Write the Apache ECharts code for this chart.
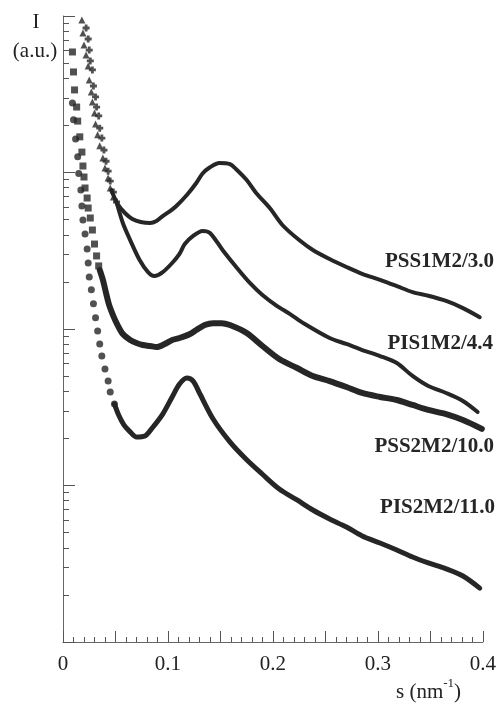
<!DOCTYPE html>
<html><head><meta charset="utf-8">
<script src="https://cdn.jsdelivr.net/npm/echarts@6/dist/echarts.min.js"></script>
<style>html,body{margin:0;padding:0;background:#fff}#c{width:499px;height:706px}</style>
</head><body><div id="c"></div>
<script>
// ---- data (s in nm^-1, I in arbitrary units, log scale) ----
const seriesNames = ['PSS1M2/3.0', 'PIS1M2/4.4', 'PSS2M2/10.0', 'PIS2M2/11.0'];

// PSS1M2/3.0 : discrete triangles (steep part) + dense curve
const sPSS1M2pts = [0.018,0.019,0.020,0.022,0.024,0.025,0.027,0.028,0.030,0.031,0.033,0.035,0.038,0.040,0.043,0.045,0.048];
const iPSS1M2pts = [9430,7790,6530,5630,4790,3900,3270,2820,2400,2040,1740,1480,1240,1070,922,796,697];
const sPSS1M2 = [0.046,0.052,0.059,0.066,0.074,0.083,0.089,0.095,0.102,0.108,0.118,0.127,0.133,0.140,0.149,0.159,0.165,0.175,0.184,0.197,0.209,0.225,0.238,0.254,0.270,0.285,0.302,0.318,0.333,0.348,0.365,0.381,0.397];
const iPSS1M2 = [773,629,551,505,483,476,490,527,567,611,718,857,985,1080,1150,1130,1050,895,740,593,462,370,320,280,249,225,206,188,172,163,151,136,119];

// PIS1M2/4.4
const sPIS1M2pts = [0.022,0.024,0.025,0.026,0.028,0.029,0.031,0.032,0.034,0.035,0.037,0.039,0.041,0.043,0.045,0.048,0.051];
const iPIS1M2pts = [8380,7130,6060,5160,4520,3570,3040,2620,2300,1920,1660,1390,1180,1020,882,750,648];
const sPIS1M2 = [0.051,0.057,0.064,0.073,0.081,0.087,0.095,0.104,0.111,0.116,0.124,0.133,0.140,0.152,0.165,0.178,0.190,0.204,0.216,0.230,0.254,0.270,0.285,0.302,0.318,0.333,0.348,0.365,0.381,0.395];
const iPIS1M2 = [648,476,370,276,231,218,231,264,302,349,393,423,411,320,249,197,165,140,125,108,87.6,80.2,73.4,67.2,60.6,50.1,43.2,39.0,34.7,29.5];

// PSS2M2/10.0
const sPSS2M2pts = [0.009,0.010,0.011,0.013,0.014,0.016,0.018,0.019,0.020,0.021,0.023,0.024,0.026,0.028,0.030,0.032,0.034];
const iPSS2M2pts = [5890,4390,3370,2620,2130,1690,1350,1100,936,796,687,593,512,429,349,293,253];
const sPSS2M2 = [0.035,0.038,0.041,0.044,0.048,0.052,0.057,0.064,0.070,0.076,0.083,0.089,0.097,0.104,0.111,0.121,0.127,0.135,0.143,0.151,0.159,0.175,0.190,0.206,0.223,0.238,0.254,0.270,0.285,0.302,0.318,0.333,0.348,0.365,0.381,0.399];
const iPSS2M2 = [238,206,170,142,121,106,92.9,85.1,81.4,79.0,77.9,76.7,80.2,85.1,87.6,92.9,98.5,106,109,109,106,94.3,77.9,64.3,56.3,50.1,46.5,42.6,39.0,36.8,35.2,32.7,30.4,28.6,26.2,23.0];

// PIS2M2/11.0
const sPIS2M2pts = [0.009,0.010,0.012,0.014,0.015,0.017,0.018,0.019,0.021,0.023,0.024,0.025,0.027,0.029,0.031,0.033,0.035,0.037,0.040,0.043,0.045,0.049];
const iPIS2M2pts = [2780,2170,1640,1260,985,773,611,497,405,325,264,215,178,145,118,97.1,80.2,67.2,55.5,46.5,39.6,33.2];
const sPIS2M2 = [0.049,0.053,0.058,0.064,0.070,0.078,0.085,0.095,0.104,0.111,0.118,0.124,0.130,0.143,0.159,0.175,0.190,0.206,0.223,0.238,0.254,0.270,0.285,0.302,0.318,0.333,0.348,0.365,0.381,0.397];
const iPIS2M2 = [33.2,28.2,24.4,22.0,20.4,20.7,23.3,28.6,36.8,44.5,48.6,46.5,39.0,26.6,19.0,14.6,11.8,9.50,8.08,6.97,6.11,5.43,4.76,4.29,3.87,3.49,3.20,2.93,2.64,2.21];

const xLabelValues = [0, 0.1, 0.2, 0.3, 0.4];
const xTickLabels = ['0', '0.1', '0.2', '0.3', '0.4'];
const yDecades = [1, 10, 100, 1000, 10000];

// ---- build ----
const LOG = v => Math.log10(v);
const pts = (s, I) => s.map((v, i) => [v, LOG(I[i])]);
const majorTicks = yDecades.map(LOG);
const minorTicks = [];
yDecades.slice(0, -1).forEach(d => { for (let k = 2; k <= 9; k++) minorTicks.push(LOG(d * k)); });

const INK = '#262626';
const SERIF = '"Liberation Serif", "DejaVu Serif", serif';
const plusPath = 'path://M3,0h4v3h3v4h-3v3h-4v-3h-3v-4h3z';

function sparse(name, s, I, symbol, size) {
  return { name: name, type: 'scatter', data: pts(s, I), symbol: symbol, symbolSize: size,
    itemStyle: { color: INK }, silent: true, z: 3 };
}
function curve(name, s, I, width) {
  return { name: name, type: 'line', data: pts(s, I), showSymbol: false, symbol: 'none', smooth: 0.3,
    lineStyle: { color: INK, width: width, cap: 'round', join: 'round' }, silent: true, z: 2 };
}

const chart = echarts.init(document.getElementById('c'), null, { renderer: 'canvas' });
chart.setOption({
  animation: false,
  backgroundColor: '#ffffff',
  grid: { left: 63, right: 16, top: 16, bottom: 64, containLabel: false },
  xAxis: {
    type: 'value', min: 0, max: 0.4, interval: 0.05,
    axisLine: { show: true, lineStyle: { color: '#666', width: 1 } },
    axisTick: { show: true, inside: true, length: 11, lineStyle: { color: '#555', width: 1 } },
    minorTick: { show: true, splitNumber: 5, length: 5, lineStyle: { color: '#555', width: 1 } },
    splitLine: { show: false }, minorSplitLine: { show: false },
    axisLabel: {
      show: true, customValues: xLabelValues, margin: 12,
      formatter: v => { const i = xLabelValues.findIndex(x => Math.abs(x - v) < 1e-9); return i >= 0 ? xTickLabels[i] : ''; },
      fontFamily: SERIF, fontSize: 21, color: '#222'
    }
  },
  yAxis: [
    { type: 'value', min: 0, max: 4, interval: 1, position: 'left',
      axisLine: { show: true, lineStyle: { color: '#666', width: 1 } },
      axisTick: { show: true, inside: true, length: 12, customValues: majorTicks, lineStyle: { color: '#555', width: 1 } },
      axisLabel: { show: false }, splitLine: { show: false } },
    { type: 'value', min: 0, max: 4, interval: 1, position: 'left', offset: 0,
      axisLine: { show: false },
      axisTick: { show: true, inside: true, length: 6, customValues: minorTicks, lineStyle: { color: '#555', width: 1 } },
      axisLabel: { show: false }, splitLine: { show: false } }
  ],
  series: [
    curve(seriesNames[0], sPSS1M2, iPSS1M2, 4),
    sparse(seriesNames[0], sPSS1M2pts, iPSS1M2pts, 'triangle', 7),
    curve(seriesNames[1], sPIS1M2, iPIS1M2, 4),
    sparse(seriesNames[1], sPIS1M2pts, iPIS1M2pts, plusPath, 7),
    curve(seriesNames[2], sPSS2M2, iPSS2M2, 6),
    sparse(seriesNames[2], sPSS2M2pts, iPSS2M2pts, 'rect', 7),
    curve(seriesNames[3], sPIS2M2, iPIS2M2, 5),
    sparse(seriesNames[3], sPIS2M2pts, iPIS2M2pts, 'circle', 7)
  ],
  graphic: [
    { type: 'text', x: 494, y: 262, style: { text: seriesNames[0], align: 'right', verticalAlign: 'middle', font: 'bold 21px ' + SERIF, fill: INK } },
    { type: 'text', x: 493, y: 344, style: { text: seriesNames[1], align: 'right', verticalAlign: 'middle', font: 'bold 21px ' + SERIF, fill: INK } },
    { type: 'text', x: 494, y: 447, style: { text: seriesNames[2], align: 'right', verticalAlign: 'middle', font: 'bold 21px ' + SERIF, fill: INK } },
    { type: 'text', x: 495, y: 508, style: { text: seriesNames[3], align: 'right', verticalAlign: 'middle', font: 'bold 21px ' + SERIF, fill: INK } },
    { type: 'text', x: 36, y: 22, style: { text: 'I', align: 'center', verticalAlign: 'middle', font: '21px ' + SERIF, fill: '#222' } },
    { type: 'text', x: 35, y: 51, style: { text: '(a.u.)', align: 'center', verticalAlign: 'middle', font: '21px ' + SERIF, fill: '#222' } },
    { type: 'text', x: 396, y: 692, style: {
        text: 's (nm{sup|-1})', align: 'left', verticalAlign: 'middle', font: '21px ' + SERIF, fill: '#222',
        rich: { sup: { fontFamily: SERIF, fontSize: 13, verticalAlign: 'top', lineHeight: 30, fill: '#222' } } } }
  ]
});
</script></body></html>
